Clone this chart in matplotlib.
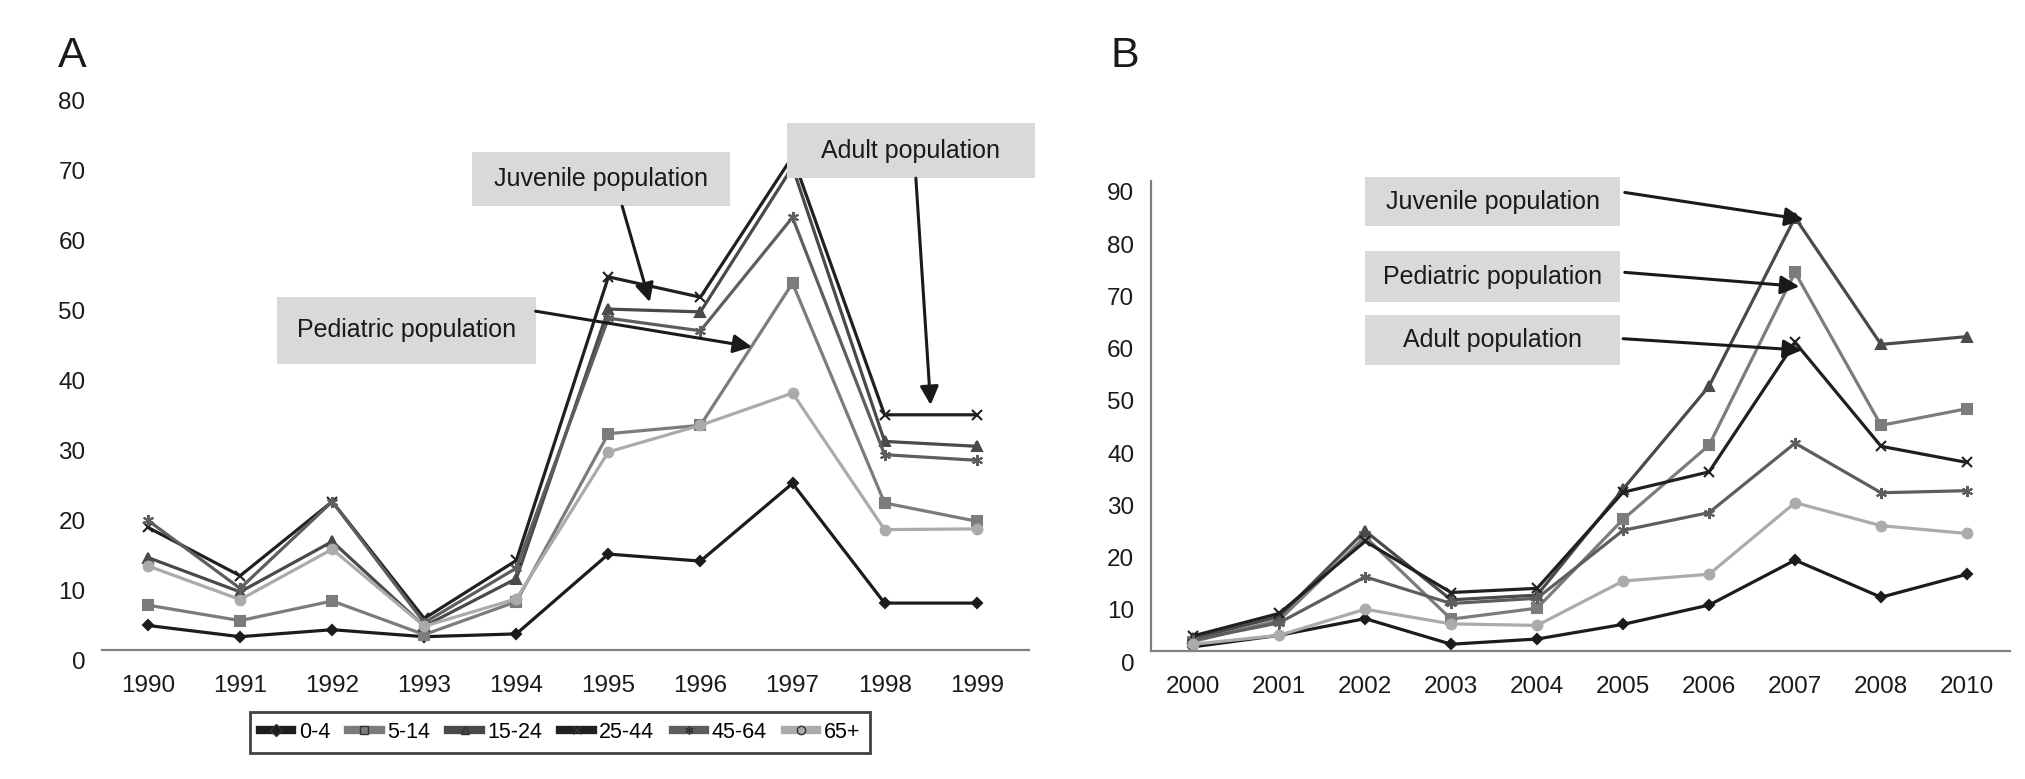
import matplotlib
matplotlib.use('Agg')
import matplotlib.pyplot as plt
from matplotlib.patches import Rectangle
from matplotlib.lines import Line2D
from matplotlib.transforms import ScaledTranslation

plt.rcParams['font.family'] = ['Liberation Sans', 'DejaVu Sans']

# panel A, 1990-1999
years_a = ['1990', '1991', '1992', '1993', '1994', '1995', '1996', '1997', '1998', '1999']
a_0_4 = [3.5, 1.9, 2.9, 1.9, 2.3, 13.7, 12.7, 23.8, 6.7, 6.7]
a_5_14 = [6.4, 4.2, 7.0, 2.2, 6.9, 30.9, 32.1, 52.4, 21.0, 18.4]
a_15_24 = [13.2, 8.3, 15.5, 3.4, 10.2, 48.7, 48.3, 69.0, 29.8, 29.1]
a_25_44 = [17.5, 10.6, 21.2, 4.5, 12.8, 53.3, 50.4, 70.5, 33.6, 33.6]
a_45_64 = [18.5, 8.8, 21.2, 3.9, 11.7, 47.4, 45.6, 61.8, 27.9, 27.1]
a_65 = [12.0, 7.2, 14.4, 3.4, 7.3, 28.3, 32.1, 36.7, 17.2, 17.3]

# panel B, 2000-2010
years_b = ['2000', '2001', '2002', '2003', '2004', '2005', '2006', '2007', '2008', '2010']
b_0_4 = [0.8, 3.0, 6.2, 1.3, 2.3, 5.1, 8.8, 17.4, 10.3, 14.7]
b_5_14 = [1.8, 5.9, 21.9, 6.1, 8.2, 25.2, 39.4, 72.5, 43.2, 46.4]
b_15_24 = [2.4, 6.6, 23.0, 9.8, 10.7, 31.0, 50.7, 83.0, 58.7, 60.2]
b_25_44 = [2.9, 7.2, 21.0, 11.2, 12.0, 30.4, 34.3, 59.1, 39.2, 36.1]
b_45_64 = [2.1, 5.4, 14.2, 9.1, 10.1, 23.1, 26.5, 39.8, 30.3, 30.7]
b_65 = [1.3, 3.0, 8.0, 5.2, 4.9, 13.4, 14.7, 28.4, 24.0, 22.5]

groups = ['0-4', '5-14', '15-24', '25-44', '45-64', '65+']
colors = ['#1c1c1c', '#7c7c7c', '#4a4a4a', '#202020', '#5e5e5e', '#ababab']
markers = ['D', 's', '^', 'x', (6, 2, 0), 'o']
msizes = [5, 7, 7, 7, 8, 7]

fig = plt.figure(figsize=(20.25, 7.79), dpi=100)
axA = fig.add_axes([0.0504, 0.1656, 0.4578, 0.7189])
axB = fig.add_axes([0.5684, 0.1643, 0.4242, 0.6034])

def draw_series(ax, labels, series):
    x = list(range(len(labels)))
    for vals, c, m, ms in zip(series, colors, markers, msizes):
        ax.plot(x, vals, color=c, lw=2.3, marker=m, markersize=ms,
                markeredgewidth=1.5, markeredgecolor=c, zorder=2)
    ax.set_xticks(x)
    ax.set_xticklabels(labels)

def style_axis(ax, ymax, step, show_left):
    ax.set_ylim(0, ymax)
    ax.set_yticks(range(0, ymax + 1, step))
    for s in ['top', 'right']:
        ax.spines[s].set_visible(False)
    ax.spines['left'].set_visible(show_left)
    ax.spines['left'].set_color('#808080')
    ax.spines['left'].set_linewidth(1.6)
    ax.spines['bottom'].set_color('#808080')
    ax.spines['bottom'].set_linewidth(1.6)
    ax.tick_params(axis='both', length=0, labelsize=17.5, colors='#1a1a1a')
    ax.tick_params(axis='x', pad=18)
    ax.tick_params(axis='y', pad=12)
    # y labels sit a little below their values in the original
    off = ScaledTranslation(0, -0.11, fig.dpi_scale_trans)
    for t in ax.yaxis.get_major_ticks():
        t.label1.set_transform(t.label1.get_transform() + off)

def note(ax, x0, x1, y0, y1, txt):
    ax.add_patch(Rectangle((x0, y0), x1 - x0, y1 - y0, facecolor='#d9d9db',
                           edgecolor='none', zorder=4, clip_on=False))
    ax.text((x0 + x1) / 2, (y0 + y1) / 2, txt, ha='center', va='center',
            fontsize=18, color='#1a1a1a', zorder=5, clip_on=False)

def arrow(ax, tail, tip):
    ax.annotate('', xy=tip, xytext=tail, zorder=6, annotation_clip=False,
                arrowprops=dict(arrowstyle='-|>', color='#1a1a1a', lw=2.2,
                                mutation_scale=28, shrinkA=0, shrinkB=0))

draw_series(axA, years_a, [a_0_4, a_5_14, a_15_24, a_25_44, a_45_64, a_65])
axA.set_xlim(-0.5, 9.57)
style_axis(axA, 80, 10, False)

note(axA, 3.52, 6.32, 63.4, 71.1, 'Juvenile population')
note(axA, 6.94, 9.63, 67.4, 75.3, 'Adult population')
note(axA, 1.40, 4.21, 40.9, 50.4, 'Pediatric population')
arrow(axA, (5.15, 63.4), (5.45, 49.7))
arrow(axA, (4.21, 48.4), (6.56, 43.3))
arrow(axA, (8.34, 67.4), (8.5, 35.0))

draw_series(axB, years_b, [b_0_4, b_5_14, b_15_24, b_25_44, b_45_64, b_65])
axB.set_xlim(-0.49, 9.5)
style_axis(axB, 90, 10, True)

note(axB, 2.0, 4.97, 81.3, 90.8, 'Juvenile population')
note(axB, 2.0, 4.97, 66.9, 76.5, 'Pediatric population')
note(axB, 2.0, 4.97, 54.7, 64.4, 'Adult population')
arrow(axB, (5.02, 87.8), (7.1, 82.6))
arrow(axB, (5.02, 72.5), (7.05, 69.8))
arrow(axB, (5.0, 59.8), (7.08, 57.6))

fig.text(58 / 2025, 1 - 67 / 779, 'A', fontsize=31, color='#1a1a1a', va='baseline')
fig.text(1110 / 2025, 1 - 67 / 779, 'B', fontsize=31, color='#1a1a1a', va='baseline')

handles = []
for g, c, m in zip(groups, colors, markers):
    handles.append(Line2D([0], [0], color=c, lw=6, marker=m, markersize=6,
                          markeredgecolor='#333333', label=g))
leg = fig.legend(handles=handles, loc='center', bbox_to_anchor=(0.2765, 0.0597),
                 ncol=6, fontsize=15.5, frameon=True, fancybox=False,
                 handlelength=1.5, handletextpad=0.3, columnspacing=0.85,
                 borderpad=0.45, borderaxespad=0)
leg.get_frame().set_edgecolor('#111111')
leg.get_frame().set_linewidth(2)

fig.savefig('out.png', dpi=100)
